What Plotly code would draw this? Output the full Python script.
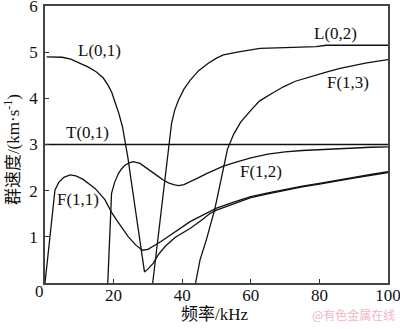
import plotly.graph_objects as go

# Group velocity dispersion curves (frequency in kHz, group velocity in km/s)
f_T01 = [0, 100]
v_T01 = [3.0, 3.0]

f_L01 = [0.5, 3, 5, 7.5, 10, 12.5, 15, 17, 18.5, 19.5, 20.4, 21.5, 22.6, 23.3, 24.2,
         25, 26.2, 27.5, 29, 30, 31.6, 33, 35, 38, 42.3, 46, 48, 50, 55, 60, 65,
         70, 75, 80, 85, 90, 95, 100]
v_L01 = [4.90, 4.90, 4.89, 4.85, 4.77, 4.68, 4.57, 4.44, 4.27, 4.12, 3.92, 3.68, 3.38,
         3.10, 2.70, 2.28, 1.65, 0.98, 0.24, 0.30, 0.43, 0.61, 0.79, 0.99, 1.18, 1.38,
         1.50, 1.58, 1.72, 1.85, 1.93, 2.01, 2.08, 2.14, 2.21, 2.27, 2.33, 2.39]

f_L02 = [31.4, 35.2, 36.2, 36.9, 37.8, 38.9, 40.5, 42.3, 44.8, 47.6, 50, 52, 56.9,
         62.7, 70, 79, 82, 100]
v_L02 = [0, 2.37, 3.0, 3.46, 3.74, 3.96, 4.2, 4.39, 4.6, 4.76, 4.87, 4.94, 5.01,
         5.08, 5.10, 5.12, 5.15, 5.15]

f_F11 = [0, 2.9, 4, 5.5, 7.3, 9, 11, 13, 14.6, 17.5, 19.4, 21, 22.7, 24.3, 26.5, 28.4,
         30, 31.6, 33, 35, 38, 42.3, 46, 48, 50, 55, 60, 65, 70, 75, 80, 85, 90, 95, 100]
v_F11 = [0, 2.01, 2.18, 2.29, 2.34, 2.32, 2.25, 2.14, 2.05, 1.80, 1.53, 1.35, 1.17, 1.00,
         0.82, 0.71, 0.73, 0.79, 0.86, 0.96, 1.12, 1.33, 1.47, 1.55, 1.62, 1.75, 1.87,
         1.95, 2.03, 2.10, 2.16, 2.23, 2.29, 2.35, 2.41]

f_F12 = [18.3, 19.4, 20.3, 21.4, 22.3, 23.3, 24.5, 25.7, 27.7, 29.5, 31.1, 33, 34.5, 36,
         37.5, 38.9, 40.5, 42.3, 44.5, 47.1, 50, 52, 55, 60, 65, 70, 75, 80, 85, 90, 95, 100]
v_F12 = [0, 1.94, 2.18, 2.37, 2.47, 2.55, 2.60, 2.63, 2.59, 2.50, 2.41, 2.31, 2.23, 2.17,
         2.13, 2.11, 2.13, 2.19, 2.27, 2.37, 2.47, 2.53, 2.60, 2.71, 2.79, 2.84, 2.87,
         2.89, 2.91, 2.93, 2.94, 2.95]

f_F13 = [43.9, 45.2, 47.1, 49.5, 51.5, 53.2, 55, 57, 60, 62.5, 66, 69.5, 73, 77.3,
         82, 86, 90, 93.8, 100]
v_F13 = [0, 0.5, 0.95, 1.6, 2.3, 2.9, 3.22, 3.48, 3.74, 3.94, 4.1, 4.25, 4.37, 4.47,
         4.57, 4.65, 4.72, 4.77, 4.84]

# Mode names and where their labels sit (data coordinates)
mode_names = ["L(0,1)", "L(0,2)", "F(1,3)", "T(0,1)", "F(1,2)", "F(1,1)"]
label_f = [16.0, 84.7, 88.3, 12.4, 63.0, 9.6]
label_v = [5.04, 5.40, 4.34, 3.25, 2.42, 1.81]

x_ticks = [20, 40, 60, 80, 100]
y_ticks = [1, 2, 3, 4, 5, 6]

SERIF = "Liberation Serif, Noto Sans CJK SC, serif"

fig = go.Figure()
curves = [(f_T01, v_T01), (f_L01, v_L01), (f_L02, v_L02),
          (f_F11, v_F11), (f_F12, v_F12), (f_F13, v_F13)]
for fx, vy in curves:
    fig.add_trace(go.Scatter(x=fx, y=vy, mode="lines",
                             line=dict(color="#111111", width=1.3),
                             showlegend=False, hoverinfo="skip"))

for name, fx, vy in zip(mode_names, label_f, label_v):
    fig.add_annotation(x=fx, y=vy, text=name, showarrow=False,
                       font=dict(family=SERIF, size=17, color="#111111"))

axis_common = dict(showline=True, mirror=True, linecolor="#444444", linewidth=1.5,
                   ticks="inside", ticklen=4, tickcolor="#333333", showgrid=False,
                   zeroline=False, ticklabeloverflow="allow", automargin=False,
                   tickfont=dict(family=SERIF, size=17, color="#111111"))

fig.update_layout(
    width=400, height=329,
    margin=dict(l=45, r=12, t=6, b=46, autoexpand=False),
    paper_bgcolor="white", plot_bgcolor="white",
    xaxis=dict(range=[0, 100], tickvals=x_ticks, ticklabelstandoff=-4, **axis_common),
    yaxis=dict(range=[0, 6], tickvals=y_ticks, ticklabelstandoff=2, **axis_common),
)

# Shared origin label
fig.add_annotation(xref="paper", yref="paper", x=-0.015, y=-0.03, text="0",
                   showarrow=False, xanchor="center", yanchor="middle",
                   font=dict(family=SERIF, size=17, color="#111111"))
# Axis titles
fig.add_annotation(xref="paper", yref="paper", x=0.496, y=-0.112,
                   text="频率/kHz", showarrow=False, xanchor="center", yanchor="middle",
                   font=dict(family=SERIF, size=17, color="#111111"))
fig.add_annotation(xref="paper", yref="paper", x=-0.096, y=0.48,
                   text="群速度/(km·s<sup>-1</sup>)", showarrow=False, textangle=-90,
                   xanchor="center", yanchor="middle",
                   font=dict(family=SERIF, size=17, color="#111111"))
# Source mark
fig.add_annotation(xref="paper", yref="paper", x=0.90, y=-0.112,
                   text="@有色金属在线", showarrow=False, xanchor="center", yanchor="middle",
                   font=dict(family="Noto Sans CJK SC", size=12, color="#f2b6bf"))

fig.write_html("out.html")
